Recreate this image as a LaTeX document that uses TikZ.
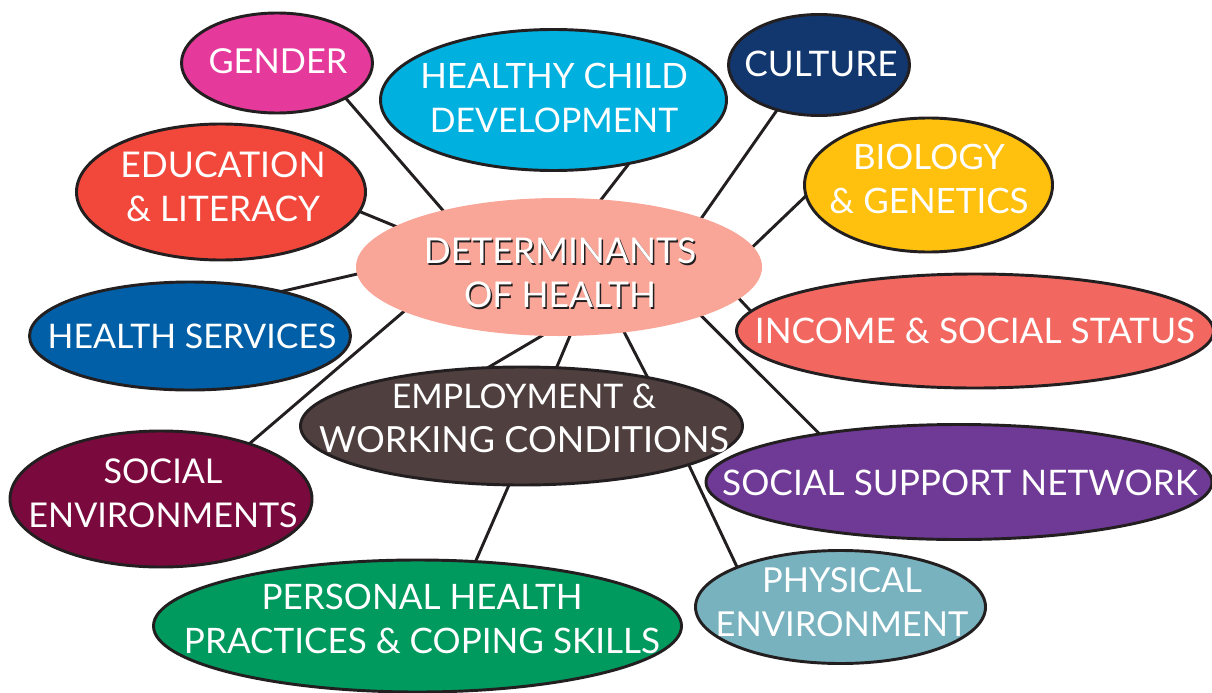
\documentclass[tikz,border=0pt]{standalone}
\usepackage{fontspec}
\setmainfont{Lato}
\usetikzlibrary{shapes.geometric,backgrounds}
\definecolor{cgender}{HTML}{E5399B}
\definecolor{cchild}{HTML}{00B0DF}
\definecolor{cculture}{HTML}{12376E}
\definecolor{cbio}{HTML}{FFC10E}
\definecolor{cedu}{HTML}{F2483C}
\definecolor{ccentre}{HTML}{F9A597}
\definecolor{cincome}{HTML}{F26861}
\definecolor{chealth}{HTML}{005FA6}
\definecolor{cemp}{HTML}{4F3F3F}
\definecolor{csupport}{HTML}{6F3A96}
\definecolor{csoc}{HTML}{7A0A3E}
\definecolor{cphys}{HTML}{79B2BF}
\definecolor{cpers}{HTML}{009A5F}
\definecolor{edgec}{HTML}{231F20}
\tikzset{
  x=0.75pt,y=-0.75pt,
  blob/.style={ellipse,draw=edgec,line width=2.2pt,inner sep=0pt,outer sep=0pt},
  bare/.style={ellipse,draw=none,inner sep=0pt,outer sep=0pt},
  lab/.style={text=white,align=center,inner sep=0pt},
  link/.style={draw=edgec,line width=2.2pt,shorten <=-1pt,shorten >=-1pt}
}
\newcommand{\blobnode}[7][blob]{\node[#1,fill=#3,minimum width=#6*0.75pt,minimum height=#7*0.75pt] (#2) at (#4,#5) {};}
\newcommand{\blobtext}[5]{\node[lab,font=\fontsize{#4}{33}\selectfont] (#1) at (#2,#3) {#5};}
\newcommand{\sz}[1]{\fontsize{#1}{33}\selectfont}
\begin{document}
\begin{tikzpicture}
\useasboundingbox (0,0) rectangle (1212,692);
\blobnode{gender}{cgender}{277}{63}{191}{100}
\blobnode{child}{cchild}{553.5}{100}{346}{141}
\blobnode{culture}{cculture}{819}{65}{181}{101}
\blobnode{bio}{cbio}{928.5}{185}{248}{134}
\blobnode{edu}{cedu}{221}{192}{289}{136}
\blobnode[bare]{centre}{ccentre}{559}{267}{406}{138}
\blobnode{income}{cincome}{975}{331}{477}{114}
\blobnode{services}{chealth}{190}{336}{321}{108}
\blobnode{employ}{cemp}{521.5}{426}{442}{118}
\blobnode{support}{csupport}{959}{482}{506}{115}
\blobnode{social}{csoc}{161}{499}{302}{136}
\blobnode{phys}{cphys}{840.5}{607}{290}{113}
\blobnode{pers}{cpers}{417.5}{626}{528}{132}
\blobtext{tgender}{278}{61.5}{25.8}{GENDER}
\blobtext{tchild}{554}{97.5}{25.8}{{\sz{26.2}HEALTHY CHILD}\\{\sz{25.4}DEVELOPMENT}}
\blobtext{tculture}{821}{63.5}{26.4}{CULTURE}
\blobtext{tbio}{929}{179}{26.2}{BIOLOGY\\\& GENETICS}
\blobtext{tedu}{223}{187}{26.4}{{\sz{26.6}EDUCATION}\\\& LITERACY}
\blobtext{tincome}{975}{331}{26.4}{INCOME \& SOCIAL STATUS}
\blobtext{tservices}{192}{336.5}{25.4}{HEALTH SERVICES}
\blobtext{temploy}{524}{418.5}{26}{{\sz{25.4}EMPLOYMENT \&}\\{\sz{27}WORKING CONDITIONS}}
\blobtext{tsupport}{960}{483}{26.4}{SOCIAL SUPPORT NETWORK}
\blobtext{tsocial}{163}{493}{25.6}{SOCIAL\\ENVIRONMENTS}
\blobtext{tphys}{842}{602}{25.8}{PHYSICAL\\ENVIRONMENT}
\blobtext{tpers}{422}{619}{26.3}{PERSONAL HEALTH\\PRACTICES \& COPING SKILLS}
\node[lab,text=edgec,font=\fontsize{26.6}{33}\selectfont] (tshadow) at (561.5,274.5) {DETERMINANTS\\OF HEALTH};
\node[lab,font=\fontsize{26.6}{33}\selectfont] (tcentre) at (560,273) {DETERMINANTS\\OF HEALTH};
\begin{pgfonlayer}{background}
\fill[white] (0,0) rectangle (1212,692);
\draw[link] (gender.-27.2) -- (centre.154);
\draw[link] (child.-40.4) -- (centre.58.9);
\draw[link] (culture.227) -- (centre.19.5);
\draw[link] (bio.185.5) -- (centre.6.2);
\draw[link] (edu.-8.6) -- (centre.166.9);
\draw[link] (services.26.6) -- (centre.182.8);
\draw[link] (social.32.2) -- (centre.196);
\draw[link] (income.175.4) -- (centre.-10.1);
\draw[link] (support.161.2) -- (centre.-19.1);
\draw[link] (employ.120.3) -- (centre.-104.4);
\draw[link] (employ.59) -- (centre.-81);
\draw[link] (employ.21.6) -- (centre.-45.9);
\draw[link] (employ.-102.9) -- (pers.48.6);
\draw[link] (employ.-13.8) -- (phys.159.2);
\end{pgfonlayer}
\end{tikzpicture}
\end{document}
